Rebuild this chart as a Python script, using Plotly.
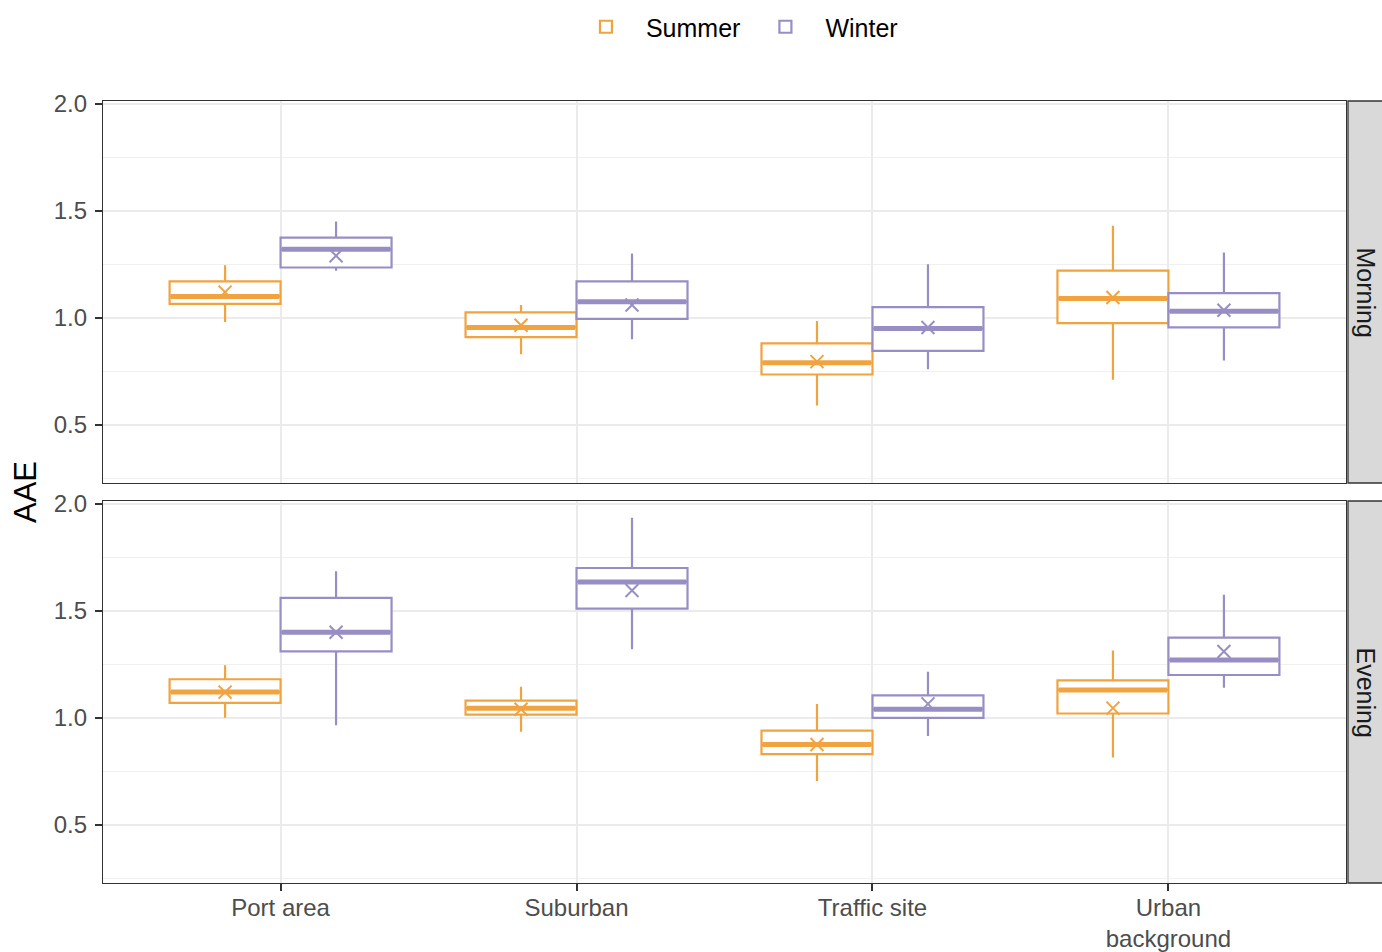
import numpy as np
import plotly.graph_objects as go
from plotly.subplots import make_subplots

# Sites on the x axis
sites = ["Port area", "Suburban", "Traffic site", "Urban<br>background"]

# Box statistics per site: lower whisker, Q1, median, Q3, upper whisker, mean
morning_summer_lower = [0.98, 0.83, 0.59, 0.71]
morning_summer_q1 = [1.065, 0.91, 0.735, 0.975]
morning_summer_median = [1.10, 0.955, 0.79, 1.09]
morning_summer_q3 = [1.17, 1.025, 0.88, 1.22]
morning_summer_upper = [1.245, 1.06, 0.985, 1.43]
morning_summer_mean = [1.12, 0.965, 0.795, 1.095]

morning_winter_lower = [1.22, 0.90, 0.76, 0.80]
morning_winter_q1 = [1.235, 0.995, 0.845, 0.955]
morning_winter_median = [1.32, 1.075, 0.95, 1.03]
morning_winter_q3 = [1.375, 1.17, 1.05, 1.115]
morning_winter_upper = [1.45, 1.30, 1.25, 1.305]
morning_winter_mean = [1.29, 1.06, 0.955, 1.035]

evening_summer_lower = [1.0, 0.935, 0.705, 0.815]
evening_summer_q1 = [1.07, 1.015, 0.83, 1.02]
evening_summer_median = [1.12, 1.045, 0.875, 1.13]
evening_summer_q3 = [1.18, 1.08, 0.94, 1.175]
evening_summer_upper = [1.245, 1.145, 1.065, 1.315]
evening_summer_mean = [1.12, 1.04, 0.875, 1.045]

evening_winter_lower = [0.965, 1.32, 0.915, 1.14]
evening_winter_q1 = [1.31, 1.51, 1.0, 1.20]
evening_winter_median = [1.40, 1.635, 1.04, 1.27]
evening_winter_q3 = [1.56, 1.70, 1.105, 1.375]
evening_winter_upper = [1.685, 1.935, 1.215, 1.575]
evening_winter_mean = [1.40, 1.595, 1.065, 1.31]

y_ticks = [0.5, 1.0, 1.5, 2.0]
y_tick_labels = ["0.5", "1.0", "1.5", "2.0"]

SUMMER = "#f1a340"
WINTER = "#998ec3"
FONT = "Liberation Sans, Arial, sans-serif"
BOX_W = 0.375  # each box is half of a 0.75 dodge width

panels = [
    ("Morning", 1, {
        "Summer": (morning_summer_lower, morning_summer_q1, morning_summer_median,
                   morning_summer_q3, morning_summer_upper, morning_summer_mean),
        "Winter": (morning_winter_lower, morning_winter_q1, morning_winter_median,
                   morning_winter_q3, morning_winter_upper, morning_winter_mean),
    }),
    ("Evening", 2, {
        "Summer": (evening_summer_lower, evening_summer_q1, evening_summer_median,
                   evening_summer_q3, evening_summer_upper, evening_summer_mean),
        "Winter": (evening_winter_lower, evening_winter_q1, evening_winter_median,
                   evening_winter_q3, evening_winter_upper, evening_winter_mean),
    }),
]
season_style = {"Summer": (SUMMER, -BOX_W / 2), "Winter": (WINTER, BOX_W / 2)}

fig = make_subplots(rows=2, cols=1, shared_xaxes=True, vertical_spacing=18 / 782)

base = np.arange(1, len(sites) + 1)
for panel_name, row, seasons in panels:
    for season, stats in seasons.items():
        color, offset = season_style[season]
        lower, q1, med, q3, upper, mean = stats
        xpos = base + offset
        fig.add_trace(go.Box(
            x=xpos, q1=q1, median=med, q3=q3, lowerfence=lower, upperfence=upper,
            width=BOX_W, whiskerwidth=0, fillcolor="white", boxpoints=False,
            line=dict(color=color, width=2.2), name=season, legendgroup=season,
            showlegend=(row == 1), hoverinfo="skip",
        ), row=row, col=1)
        # thicker median bar, as in ggplot
        mx, my = [], []
        for xc, m in zip(xpos, med):
            mx += [xc - BOX_W / 2 + 0.004, xc + BOX_W / 2 - 0.004, None]
            my += [m, m, None]
        fig.add_trace(go.Scatter(
            x=mx, y=my, mode="lines", line=dict(color=color, width=5),
            showlegend=False, hoverinfo="skip", legendgroup=season,
        ), row=row, col=1)
        # mean marker
        fig.add_trace(go.Scatter(
            x=xpos, y=mean, mode="markers",
            marker=dict(symbol="x-thin", size=13, line=dict(color=color, width=2)),
            showlegend=False, hoverinfo="skip", legendgroup=season,
        ), row=row, col=1)

axis_common = dict(showline=True, mirror=True, linecolor="#333333", linewidth=1.3,
                   zeroline=False, gridcolor="#EBEBEB", gridwidth=2, automargin=False)

for r in (1, 2):
    fig.update_xaxes(range=[0.4, 4.6], tickvals=list(base), ticktext=sites,
                     showticklabels=(r == 2), ticks="outside" if r == 2 else "",
                     ticklen=7, tickwidth=1.8, tickcolor="#333333",
                     ticklabelstandoff=-4,
                     tickfont=dict(family=FONT, size=24, color="#4D4D4D"),
                     row=r, col=1, **axis_common)
    fig.update_yaxes(range=[0.228, 2.013], tickvals=y_ticks, ticktext=y_tick_labels,
                     ticks="outside", ticklen=7, tickwidth=1.8, tickcolor="#333333",
                     ticklabelstandoff=3,
                     tickfont=dict(family=FONT, size=24, color="#4D4D4D"),
                     minor=dict(tickvals=[0.25, 0.75, 1.25, 1.75], showgrid=True,
                                gridcolor="#F0F0F0", gridwidth=1, ticks=""),
                     row=r, col=1, **axis_common)

# Facet strips on the right
strip_x0 = (1348 - 103) / 1243
strip_x1 = (1383 - 103) / 1243
for panel_name, row, _ in panels:
    yref = "y domain" if row == 1 else "y2 domain"
    fig.add_shape(type="rect", xref="paper", yref=yref, x0=strip_x0, x1=strip_x1,
                  y0=0, y1=1, fillcolor="#D9D9D9", line=dict(color="#333333", width=1.3),
                  layer="above")
    fig.add_annotation(text=panel_name, xref="paper", yref=yref,
                       x=(strip_x0 + strip_x1) / 2, y=0.5, xanchor="center",
                       yanchor="middle", showarrow=False, textangle=90,
                       font=dict(family=FONT, size=25, color="#1A1A1A"))

fig.add_annotation(text="AAE", xref="paper", yref="paper", x=(25 - 103) / 1243, y=0.5,
                   xanchor="center", yanchor="middle", showarrow=False, textangle=-90,
                   font=dict(family=FONT, size=31, color="black"))

fig.update_layout(
    width=1382, height=952,
    margin=dict(l=103, r=36, t=101, b=69, autoexpand=False),
    paper_bgcolor="white", plot_bgcolor="white",
    boxmode="overlay",
    legend=dict(orientation="h", x=0.508, xanchor="center",
                yref="container", y=1 - 27 / 952, yanchor="middle",
                font=dict(family=FONT, size=25, color="black"),
                itemwidth=70, bgcolor="rgba(0,0,0,0)"),
)

fig.write_html("out.html")
